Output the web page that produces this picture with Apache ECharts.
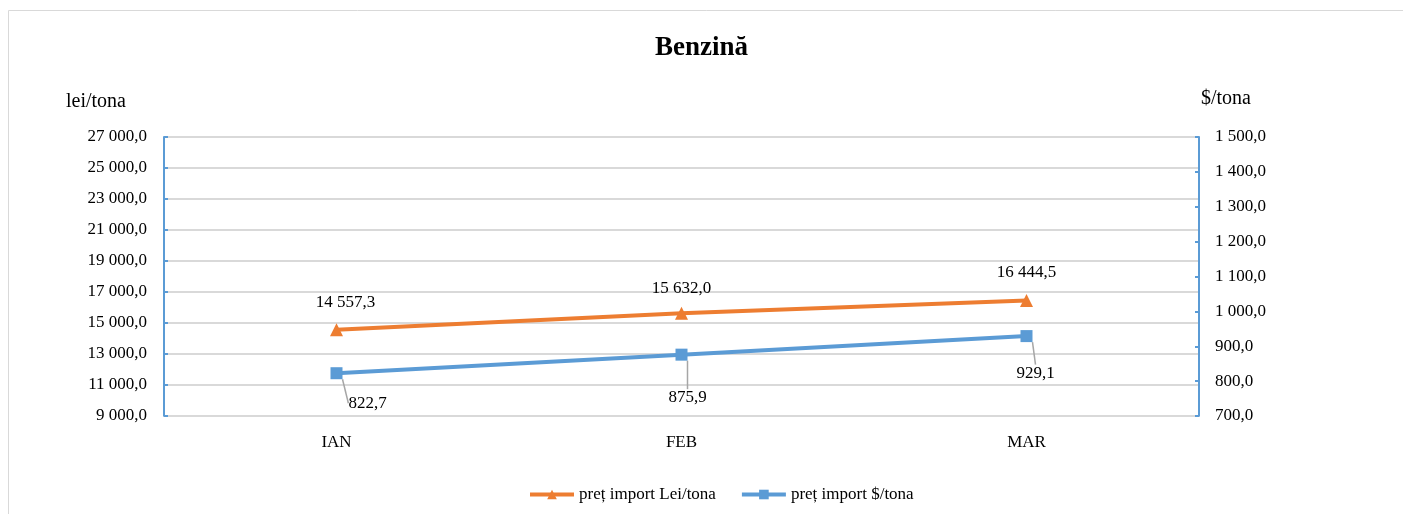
<!DOCTYPE html>
<html><head><meta charset="utf-8">
<script src="https://cdn.jsdelivr.net/npm/echarts@6/dist/echarts.min.js"></script>
<style>html,body{margin:0;padding:0;background:#fff}#c{width:1403px;height:514px}</style>
</head><body><div id="c"></div>
<script>
const categories = ['IAN', 'FEB', 'MAR'];
const leiValues = [14557.3, 15632.0, 16444.5];
const usdValues = [822.7, 875.9, 929.1];
const leftTicks = { min: 9000, max: 27000, interval: 2000 };
const rightTicks = { min: 700, max: 1500, interval: 100 };
const seriesNames = ['preț import Lei/tona', 'preț import $/tona'];

function fmt(v) {
  const s = v.toFixed(1).split('.');
  return s[0].replace(/\B(?=(\d{3})+(?!\d))/g, ' ') + ',' + s[1];
}
const FONT = 'Liberation Serif';
const blueOffsets = [[31, 30], [6, 43], [9, 37]];
const orangeOffsets = [[9, -27], [0, -25], [0, -28]];

const chart = echarts.init(document.getElementById('c'));
chart.setOption({
  animation: false,
  textStyle: { fontFamily: FONT },
  graphic: [{ type: 'rect', shape: { x: 8.5, y: 10.5, width: 1400, height: 510 }, style: { fill: 'none', stroke: '#d9d9d9', lineWidth: 1 }, silent: true }],
  title: { text: 'Benzină', left: 'center', top: 30, textStyle: { fontFamily: FONT, fontSize: 27, fontWeight: 'bold', color: '#000' } },
  legend: {
    bottom: 6, left: 523, itemWidth: 44, itemHeight: 12, itemGap: 24,
    lineStyle: { width: 4 },
    textStyle: { fontFamily: FONT, fontSize: 17, color: '#000' },
    data: seriesNames
  },
  grid: { left: 164, right: 204, top: 137, bottom: 98 },
  xAxis: {
    type: 'category', data: categories, boundaryGap: true,
    axisLine: { lineStyle: { color: '#d9d9d9', width: 1 } },
    axisTick: { show: false },
    axisLabel: { fontFamily: FONT, fontSize: 17, color: '#000', margin: 18 }
  },
  yAxis: [{
    type: 'value', min: leftTicks.min, max: leftTicks.max, interval: leftTicks.interval,
    name: 'lei/tona', nameLocation: 'end', nameGap: 25,
    nameTextStyle: { fontFamily: FONT, fontSize: 20, color: '#000', align: 'right', padding: [0, 38, 0, 0] },
    axisLine: { show: true, lineStyle: { color: '#5B9BD5', width: 2 } },
    axisTick: { show: true, inside: true, length: 4, lineStyle: { color: '#5B9BD5', width: 2 } },
    axisLabel: { fontFamily: FONT, fontSize: 17, color: '#000', margin: 17, formatter: fmt },
    splitLine: { lineStyle: { color: '#d9d9d9', width: 2 } }
  }, {
    type: 'value', min: rightTicks.min, max: rightTicks.max, interval: rightTicks.interval,
    name: '$/tona', nameLocation: 'end', nameGap: 28,
    nameTextStyle: { fontFamily: FONT, fontSize: 20, color: '#000', align: 'left', padding: [0, 0, 0, 2] },
    axisLine: { show: true, lineStyle: { color: '#5B9BD5', width: 2 } },
    axisTick: { show: true, inside: true, length: 4, lineStyle: { color: '#5B9BD5', width: 2 } },
    axisLabel: { fontFamily: FONT, fontSize: 17, color: '#000', margin: 16, formatter: fmt },
    splitLine: { show: false }
  }],
  series: [{
    name: seriesNames[0], type: 'line', yAxisIndex: 0, data: leiValues,
    symbol: 'triangle', symbolSize: 13,
    lineStyle: { color: '#ED7D31', width: 4 }, itemStyle: { color: '#ED7D31' },
    label: { show: true, position: 'inside', fontFamily: FONT, fontSize: 17, color: '#000', formatter: p => fmt(p.value) },
    labelLayout: p => ({ dx: orangeOffsets[p.dataIndex][0], dy: orangeOffsets[p.dataIndex][1] })
  }, {
    name: seriesNames[1], type: 'line', yAxisIndex: 1, data: usdValues,
    symbol: 'rect', symbolSize: 12,
    lineStyle: { color: '#5B9BD5', width: 4 }, itemStyle: { color: '#5B9BD5' },
    label: { show: true, position: 'inside', fontFamily: FONT, fontSize: 17, color: '#000', formatter: p => fmt(p.value) },
    labelLine: { show: true, lineStyle: { color: '#a6a6a6', width: 1.5 } },
    labelLayout: p => ({ dx: blueOffsets[p.dataIndex][0], dy: blueOffsets[p.dataIndex][1] })
  }]
});
</script></body></html>
